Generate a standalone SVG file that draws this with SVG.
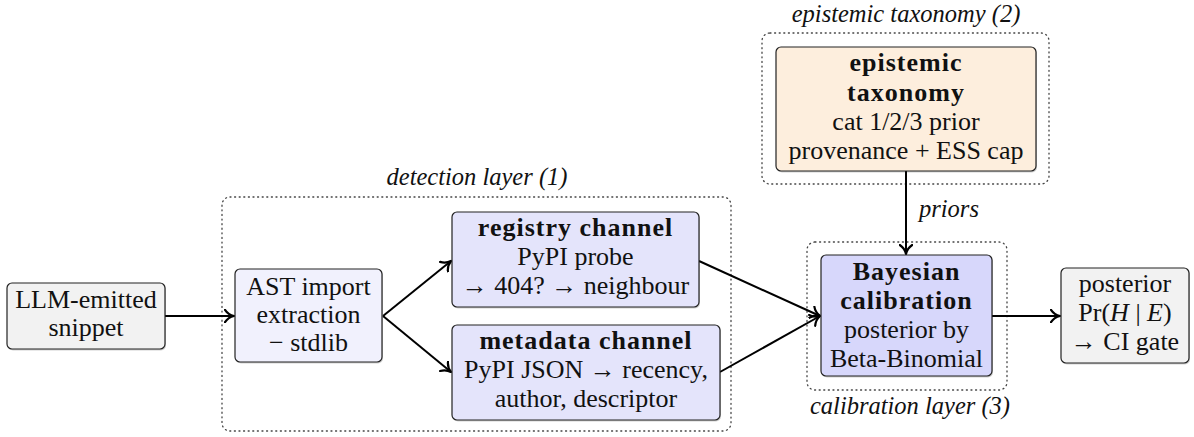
<svg xmlns="http://www.w3.org/2000/svg" width="1194" height="437" viewBox="0 0 1194 437">
  <defs>
    <!-- open curved-barb arrow tip shared by every connector -->
    <marker id="tip" viewBox="-10 -7 12 14" markerWidth="12" markerHeight="14" refX="0" refY="0" orient="auto" markerUnits="userSpaceOnUse">
      <path d="M -9,-6.2 C -6.5,-2.4 -2.7,-0.6 0,0 C -2.7,0.6 -6.5,2.4 -9,6.2" fill="none" stroke="#000" stroke-width="2.2" stroke-linecap="round" stroke-linejoin="round"/>
    </marker>
  </defs>

  <!-- layer frames: dotted rounded outlines with italic captions -->
  <g fill="none" stroke="#444" stroke-width="1.3" stroke-dasharray="1 3.6" stroke-linecap="round">
    <rect id="detection-frame" x="222" y="197" width="509" height="234" rx="8"/>
    <rect id="taxonomy-frame" x="762" y="33" width="287" height="151" rx="8"/>
    <rect id="calibration-frame" x="807" y="242" width="200" height="148" rx="8"/>
  </g>
  <g id="layer-captions" font-family="Liberation Serif" font-size="24.5" font-style="italic" text-anchor="middle" fill="#111">
    <text x="477" y="185">detection layer (1)</text>
    <text x="906" y="22">epistemic taxonomy (2)</text>
    <text x="910" y="414">calibration layer (3)</text>
  </g>

  <!-- connectors -->
  <g id="connectors" fill="none" stroke="#000" stroke-width="2" marker-end="url(#tip)">
    <path d="M 165,316 L 234,316"/>
    <path d="M 383,316 L 451,261"/>
    <path d="M 383,316 L 451,372"/>
    <path d="M 699,261 L 820,316"/>
    <path d="M 720,372 L 820,316"/>
    <path d="M 906,171 L 906,254"/>
    <path d="M 992,316 L 1060,316"/>
  </g>
  <text id="priors-label" x="949" y="217" font-family="Liberation Serif" font-size="24.5" font-style="italic" text-anchor="middle" fill="#111">priors</text>

  <!-- nodes -->
  <g id="snippet" font-family="Liberation Serif" font-size="26" text-anchor="middle">
    <rect x="8" y="284.5" width="158" height="66" rx="5" fill="#000" opacity="0.18"/>
    <rect x="7" y="283" width="158" height="66" rx="5" fill="#f2f2f2" stroke="#222" stroke-width="1.2"/>
    <text x="86" y="308" fill="#111">LLM-emitted</text>
    <text x="86" y="336" fill="#111">snippet</text>
  </g>

  <g id="ast-extraction" font-family="Liberation Serif" font-size="26" text-anchor="middle">
    <rect x="236" y="270.5" width="147" height="93" rx="5" fill="#000" opacity="0.18"/>
    <rect x="235" y="269" width="147" height="93" rx="5" fill="#f1f1fd" stroke="#222" stroke-width="1.2"/>
    <text x="308.5" y="295" fill="#111">AST import</text>
    <text x="308.5" y="323" fill="#111">extraction</text>
    <text x="308.5" y="351" fill="#111">− stdlib</text>
  </g>

  <g id="registry-channel" font-family="Liberation Serif" font-size="26" text-anchor="middle">
    <rect x="453" y="213.5" width="247" height="95" rx="5" fill="#000" opacity="0.18"/>
    <rect x="452" y="212" width="247" height="95" rx="5" fill="#e4e4fb" stroke="#222" stroke-width="1.2"/>
    <text x="575.5" y="236" fill="#111" font-weight="bold" letter-spacing="1">registry channel</text>
    <text x="575.5" y="265" fill="#111">PyPI probe</text>
    <text x="575.5" y="294" fill="#111">→ 404? → neighbour</text>
  </g>

  <g id="metadata-channel" font-family="Liberation Serif" font-size="26" text-anchor="middle">
    <rect x="453" y="326.5" width="268" height="95" rx="5" fill="#000" opacity="0.18"/>
    <rect x="452" y="325" width="268" height="95" rx="5" fill="#e4e4fb" stroke="#222" stroke-width="1.2"/>
    <text x="586" y="349" fill="#111" font-weight="bold" letter-spacing="1">metadata channel</text>
    <text x="586" y="378" fill="#111">PyPI JSON → recency,</text>
    <text x="586" y="407" fill="#111">author, descriptor</text>
  </g>

  <g id="epistemic-taxonomy" font-family="Liberation Serif" font-size="26" text-anchor="middle">
    <rect x="777" y="48.5" width="260" height="124" rx="5" fill="#000" opacity="0.18"/>
    <rect x="776" y="47" width="260" height="124" rx="5" fill="#fdeedd" stroke="#222" stroke-width="1.2"/>
    <text x="906" y="71" fill="#111" font-weight="bold" letter-spacing="1">epistemic</text>
    <text x="906" y="101" fill="#111" font-weight="bold" letter-spacing="1">taxonomy</text>
    <text x="906" y="130" fill="#111">cat 1/2/3 prior</text>
    <text x="906" y="159" fill="#111">provenance + ESS cap</text>
  </g>

  <g id="bayesian-calibration" font-family="Liberation Serif" font-size="26" text-anchor="middle">
    <rect x="822" y="256.5" width="171" height="121" rx="5" fill="#000" opacity="0.18"/>
    <rect x="821" y="255" width="171" height="121" rx="5" fill="#d7d7fb" stroke="#222" stroke-width="1.2"/>
    <text x="906.5" y="280" fill="#111" font-weight="bold" letter-spacing="1">Bayesian</text>
    <text x="906.5" y="309" fill="#111" font-weight="bold" letter-spacing="1">calibration</text>
    <text x="906.5" y="338" fill="#111">posterior by</text>
    <text x="906.5" y="367" fill="#111">Beta-Binomial</text>
  </g>

  <g id="posterior" font-family="Liberation Serif" font-size="26" text-anchor="middle">
    <rect x="1062" y="269.5" width="128" height="95" rx="5" fill="#000" opacity="0.18"/>
    <rect x="1061" y="268" width="128" height="95" rx="5" fill="#f2f2f2" stroke="#222" stroke-width="1.2"/>
    <text x="1125" y="292" fill="#111">posterior</text>
    <text x="1125" y="321" fill="#111">Pr(<tspan font-style="italic">H</tspan> | <tspan font-style="italic">E</tspan>)</text>
    <text x="1125" y="350" fill="#111">→ CI gate</text>
  </g>
</svg>
